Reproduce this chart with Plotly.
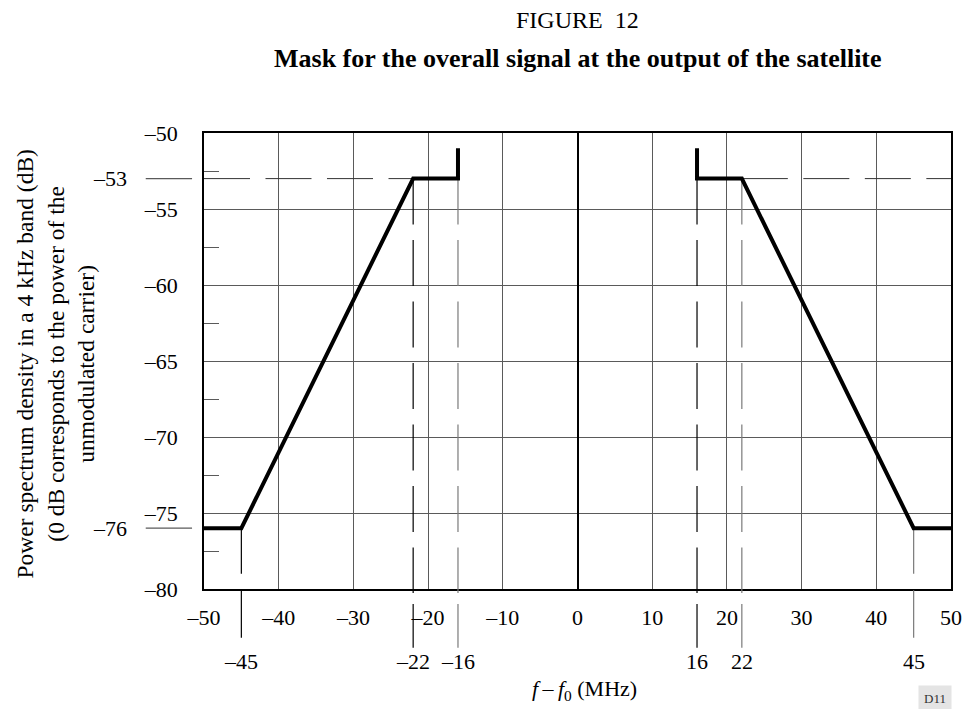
import plotly.graph_objects as go

FONT = "Liberation Serif"
INK = "black"
GREY = "#7a7a7a"
GRID = "#5a5a5a"
DASH = "46px,15.5px"

# axis ticks
x_ticks = [-50, -40, -30, -20, -10, 0, 10, 20, 30, 40, 50]
y_ticks = [-50, -55, -60, -65, -70, -75, -80]
y_minor = [-52.5, -57.5, -62.5, -67.5, -72.5, -77.5]

# spectrum mask corner points (MHz, dB)
left_freq = [-50, -45, -22, -16, -16]
left_level = [-76, -76, -53, -53, -51]
right_freq = [16, 16, 22, 45, 50]
right_level = [-51, -53, -53, -76, -76]

# band edges marked under the frequency axis
edge_freqs = [-45, -22, -16, 16, 22, 45]
edge_colors = [INK, INK, GREY, INK, GREY, GREY]

# reference levels written left of the level axis
ref_levels = [-53, -76]

# lower end of the +/-45 MHz drop lines inside the frame
drop_end = -79


def dash_label(v):
    return ("\u2013" + str(abs(v))) if v < 0 else str(v)


fig = go.Figure()

# -53 dB reference, dashed, from the frame to the mask corners
fig.add_trace(go.Scatter(x=[x_ticks[0], left_freq[2]], y=[ref_levels[0]] * 2,
                         mode="lines", line=dict(color="#333333", width=1, dash=DASH)))
fig.add_trace(go.Scatter(x=[right_freq[2], x_ticks[-1]], y=[ref_levels[0]] * 2,
                         mode="lines", line=dict(color="#333333", width=1, dash=DASH)))

# dashed verticals at +/-16 and +/-22 MHz, solid drops at +/-45 MHz
for f, c in zip(edge_freqs, edge_colors):
    if abs(f) in (16, 22):
        fig.add_trace(go.Scatter(x=[f, f], y=[ref_levels[0], y_ticks[-1]], mode="lines",
                                 line=dict(color=c, width=1.2, dash=DASH)))
    else:
        fig.add_trace(go.Scatter(x=[f, f], y=[ref_levels[1], drop_end], mode="lines",
                                 line=dict(color=c, width=1.2)))

# the mask itself
fig.add_trace(go.Scatter(x=left_freq, y=left_level, mode="lines",
                         line=dict(color=INK, width=4)))
fig.add_trace(go.Scatter(x=right_freq, y=right_level, mode="lines",
                         line=dict(color=INK, width=4)))

shapes = []
# stubs of the reference levels outside the frame
for lvl in ref_levels:
    shapes.append(dict(type="line", xref="paper", yref="y", x0=-0.078, x1=-0.016,
                       y0=lvl, y1=lvl, line=dict(color=GRID, width=1.2)))
# extensions of the band-edge lines below the frame
for f, c in zip(edge_freqs, edge_colors):
    if abs(f) in (16, 22):
        shapes.append(dict(type="line", xref="x", yref="paper", x0=f, x1=f,
                           y0=0, y1=-0.009, line=dict(color=c, width=1.2)))
        shapes.append(dict(type="line", xref="x", yref="paper", x0=f, x1=f,
                           y0=-0.033, y1=-0.129, line=dict(color=c, width=1.2)))
    else:
        shapes.append(dict(type="line", xref="x", yref="paper", x0=f, x1=f,
                           y0=-0.003, y1=-0.107, line=dict(color=c, width=1.2)))

annotations = []
for lvl in ref_levels:
    annotations.append(dict(xref="paper", yref="y", x=-0.101, y=lvl, text=dash_label(lvl),
                            showarrow=False, xanchor="right", yanchor="middle",
                            font=dict(family=FONT, size=22, color=INK)))
for f in edge_freqs:
    annotations.append(dict(xref="x", yref="paper", x=f, y=-0.160, text=dash_label(f),
                            showarrow=False, xanchor="center", yanchor="middle",
                            font=dict(family=FONT, size=22, color=INK)))

annotations += [
    dict(xref="paper", yref="paper", x=0.5, y=1.248, text="FIGURE\u00a0\u00a012",
         showarrow=False, xanchor="center", yanchor="middle",
         font=dict(family=FONT, size=24, color=INK)),
    dict(xref="paper", yref="paper", x=0.5, y=1.164,
         text="<b>Mask for the overall signal at the output of the satellite</b>",
         showarrow=False, xanchor="center", yanchor="middle",
         font=dict(family=FONT, size=26, color=INK)),
    dict(xref="paper", yref="paper", x=0.51, y=-0.2215,
         text="<i>f</i>\u2009\u2013\u2009<i>f</i><sub>0</sub> (MHz)",
         showarrow=False, xanchor="center", yanchor="middle",
         font=dict(family=FONT, size=22, color=INK)),
    dict(xref="paper", yref="paper", x=-0.199, y=0.493,
         text="Power spectrum density in a 4 kHz band (dB)<br>"
              "(0 dB corresponds to the power of the<br>unmodulated carrier)",
         showarrow=False, textangle=-90, xanchor="center", yanchor="middle",
         font=dict(family=FONT, size=23.5, color=INK)),
    dict(xref="paper", yref="paper", x=0.979, y=-0.241, text="D11",
         showarrow=False, xanchor="center", yanchor="middle", bgcolor="#e4e4e4",
         borderpad=5, font=dict(family=FONT, size=13, color="#333333")),
]

fig.update_layout(
    width=974, height=709,
    margin=dict(l=204, r=12, t=133, b=120),
    paper_bgcolor="white", plot_bgcolor="white",
    showlegend=False,
    shapes=shapes, annotations=annotations,
    font=dict(family=FONT, size=22, color=INK),
)

fig.update_xaxes(
    range=[x_ticks[0], x_ticks[-1]], tickmode="array", tickvals=x_ticks,
    ticktext=[dash_label(v) for v in x_ticks],
    showgrid=True, gridcolor=GRID, gridwidth=1,
    zeroline=True, zerolinecolor=INK, zerolinewidth=2,
    showline=True, mirror=True, linecolor=INK, linewidth=1.5,
    ticks="", ticklabelstandoff=8,
    tickfont=dict(family=FONT, size=22, color=INK),
)
fig.update_yaxes(
    range=[y_ticks[-1], y_ticks[0]], tickmode="array", tickvals=y_ticks,
    ticktext=[dash_label(v) for v in y_ticks],
    showgrid=True, gridcolor=GRID, gridwidth=1, zeroline=False,
    showline=True, mirror=True, linecolor=INK, linewidth=1.5,
    ticks="", ticklabelstandoff=20,
    minor=dict(tickmode="array", tickvals=y_minor, ticks="inside", ticklen=15,
               tickcolor=GRID, tickwidth=1, showgrid=False),
    tickfont=dict(family=FONT, size=22, color=INK),
)

fig.write_html("out.html")
